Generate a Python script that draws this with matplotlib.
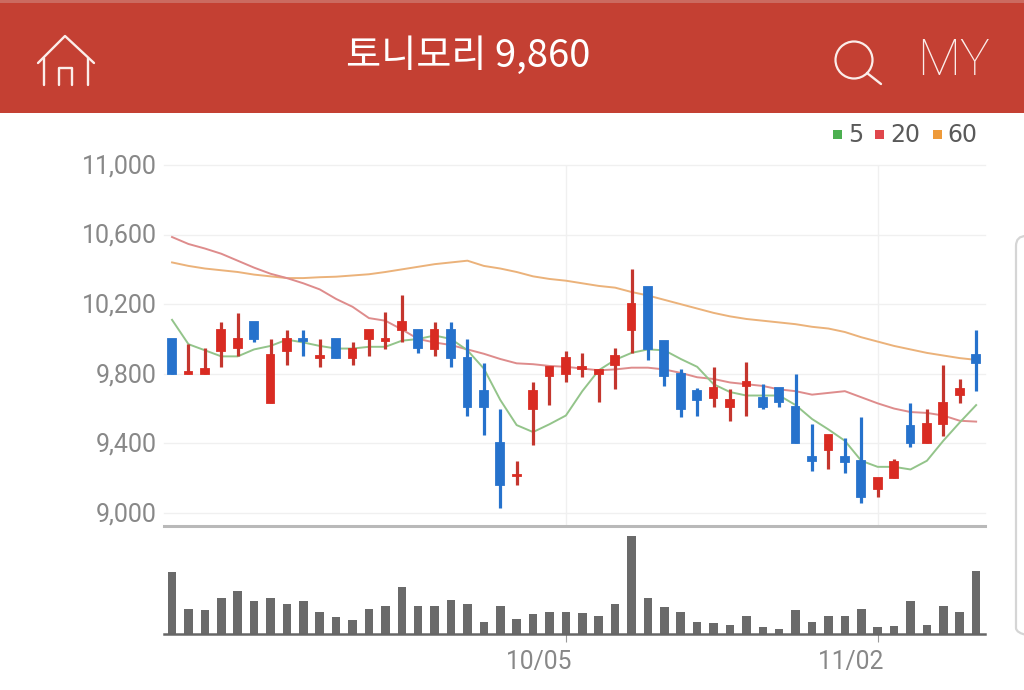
import matplotlib
matplotlib.use("Agg")
import matplotlib.pyplot as plt
from matplotlib.patches import Rectangle, Circle, FancyBboxPatch
from matplotlib.transforms import ScaledTranslation

# --- data ---
title_text = "토니모리 9,860"
y_ticks = [9000, 9400, 9800, 10200, 10600, 11000]
x_tick_idx = [24, 43]
x_tick_labels = ["10/05", "11/02"]
ma_names = ["5", "20", "60"]

opens = [10000,9800,9800,9930,9950,10100,9630,9930,10000,9890,10000,9890,10000,9990,10050,10050,9940,10050,9890,9700,
         9400,9210,9600,9790,9800,9830,9800,9850,10050,10300,9990,9800,9700,9660,9610,9730,9660,9720,9610,9320,
         9360,9320,9300,9140,9200,9500,9400,9510,9680,9910]
closes = [9800,9810,9830,10050,10000,10000,9910,10000,9990,9900,9890,9940,10050,10000,10100,9950,10050,9890,9610,9610,
          9160,9220,9700,9840,9890,9840,9820,9900,10200,9940,9790,9600,9650,9720,9650,9750,9610,9640,9400,9300,
          9450,9290,9090,9200,9290,9400,9510,9630,9710,9860]
highs = [10000,9970,9950,10100,10150,10100,10000,10050,10050,10000,10000,9980,10050,10155,10250,10050,10100,10100,10000,9860,
         9600,9300,9750,9840,9930,9920,9830,9950,10400,10300,9990,9830,9720,9840,9710,9870,9740,9720,9800,9510,
         9450,9430,9550,9200,9310,9630,9600,9850,9770,10050]
lows = [9800,9800,9800,9840,9900,9980,9630,9850,9900,9840,9890,9850,9900,9940,9980,9920,9900,9840,9560,9450,
        9030,9160,9390,9620,9750,9780,9640,9710,9920,9880,9730,9550,9560,9610,9530,9560,9600,9610,9400,9240,
        9250,9230,9060,9090,9200,9380,9400,9440,9630,9700]
ma5 = [10110,9970,9935,9900,9900,9940,9960,9996,9980,9960,9945,9945,9955,9955,9990,10000,10020,10000,9935,9830,
       9650,9505,9465,9510,9560,9700,9820,9880,9920,9940,9935,9885,9840,9740,9695,9675,9675,9675,9620,9540,
       9480,9415,9300,9265,9265,9250,9300,9415,9520,9620]
ma20 = [10586,10546,10520,10490,10450,10410,10375,10350,10320,10285,10230,10185,10120,10105,10055,10000,9980,9965,9940,9915,
        9885,9860,9855,9845,9840,9830,9820,9825,9835,9835,9825,9805,9780,9770,9750,9740,9730,9710,9700,9680,
        9690,9700,9665,9630,9600,9580,9575,9560,9530,9525]
ma60 = [10440,10420,10405,10395,10385,10370,10360,10350,10350,10355,10358,10365,10372,10385,10400,10415,10430,10440,10450,10420,
        10405,10385,10360,10345,10335,10320,10305,10295,10270,10250,10225,10200,10175,10150,10130,10115,10105,10095,10085,10070,
        10060,10040,10010,9985,9960,9940,9920,9905,9890,9880]
volumes = [185,75,72,107,129,98,107,89,98,67,50,41,76,85,141,85,85,102,89,37,85,46,59,67,67,
           63,54,89,293,107,80,67,37,33,28,54,20,15,72,37,54,54,76,20,24,98,28,85,67,189]

# --- styles ---
RED = "#D92B22"
RED_WICK = "#C4362E"
BLUE = "#2672CC"
HEADER = "#C44033"
TXT = "#888888"
ICON = "#FBEDEA"
MA_COL = ["#93C48A", "#DE8C8C", "#EBB27A"]
LEG_COL = ["#4CAF50", "#E0474C", "#EE9A3A"]
W, H = 1024, 690
plt.rcParams["font.family"] = ["Roboto", "Noto Sans CJK KR", "DejaVu Sans"]

fig = plt.figure(figsize=(W / 100, H / 100), dpi=100, facecolor="white")

def px_axes(l, t, r, b, **kw):
    return fig.add_axes([l / W, 1 - b / H, (r - l) / W, (b - t) / H], **kw)

# --- chrome layer in pixel coordinates ---
bg = px_axes(0, 0, W, H, zorder=0)
bg.set_xlim(0, W); bg.set_ylim(H, 0); bg.axis("off")
bg.add_patch(Rectangle((0, 0), W, 113, color=HEADER, lw=0))
bg.add_patch(Rectangle((0, 0), W, 3, color="#CB6A60", lw=0))
bg.text(468, 56, title_text, color="white", fontsize=27.5, ha="center", va="center",
        family=["Noto Sans CJK KR", "DejaVu Sans"], fontweight="medium")
ic = dict(color=ICON, lw=1.7, solid_capstyle="round", solid_joinstyle="round")
bg.plot([38, 65, 94], [63, 36, 63], **ic)
bg.plot([44, 44], [58, 85], **ic)
bg.plot([88, 88], [58, 85], **ic)
bg.plot([59, 59, 72, 72], [85, 68, 68, 85], **ic)
bg.add_patch(Circle((854, 60), 18.5, fill=False, ec=ICON, lw=1.6))
bg.plot([867, 881], [73, 84], **ic)
bg.text(953, 61.5, "MY", color=ICON, fontsize=36, ha="center", va="center",
        family=["Roboto"], fontweight="light")
# legend
for name, col, sx, tx in zip(ma_names, LEG_COL, [833, 875, 933], [848, 890, 947]):
    bg.add_patch(Rectangle((sx, 129.5), 9, 9, color=col, lw=0))
    bg.text(tx, 135, name, color="#5A5A5A", fontsize=17, ha="left", va="center",
            family=["DejaVu Sans"])
# right panel edge
bg.add_patch(FancyBboxPatch((1016, 236), 60, 402, boxstyle="round,pad=0,rounding_size=10",
                            fill=False, ec="#D5D5D5", lw=1.6))

# --- price panel ---
ax = px_axes(164, 165, 985, 526, zorder=2)
ax.patch.set_alpha(0)
ax.set_xlim(-0.49, 49.54)
ax.set_ylim(8925, 11000)
for s in ["top", "left", "right"]:
    ax.spines[s].set_visible(False)
ax.spines["bottom"].set_color("#B9B9B9")
ax.spines["bottom"].set_linewidth(2.2)
ax.set_yticks(y_ticks)
ax.set_yticklabels([f"{v:,}" for v in y_ticks])
ax.tick_params(axis="y", length=0, pad=5, labelsize=18, labelcolor=TXT)
ax.tick_params(axis="x", length=0, labelbottom=False)
ax.set_xticks(x_tick_idx)
ax.grid(True, color="#F0F0F0", lw=1.0, zorder=0)
ax.set_axisbelow(True)
for lab in ax.yaxis.get_gridlines():
    lab.set_clip_on(False)
y_shift = ScaledTranslation(0, 1.2 / 100, fig.dpi_scale_trans)
for label in ax.get_yticklabels():
    label.set_transform(label.get_transform() + y_shift)

xs = list(range(len(opens)))
ax.plot(xs, ma60, color=MA_COL[2], lw=1.4, zorder=3)
ax.plot(xs, ma20, color=MA_COL[1], lw=1.4, zorder=3)
ax.plot(xs, ma5, color=MA_COL[0], lw=1.4, zorder=3)
for i in xs:
    up = closes[i] >= opens[i]
    body_col = RED if up else BLUE
    wick_col = RED_WICK if up else BLUE
    ax.vlines(i, lows[i], highs[i], color=wick_col, lw=2.3, zorder=4)
    lo, hi = min(opens[i], closes[i]), max(opens[i], closes[i])
    ax.bar(i, hi - lo, bottom=lo, width=0.47, color=body_col, edgecolor=body_col, lw=1.3, zorder=5)

# --- volume panel ---
vx = px_axes(164, 534, 985, 634, zorder=2)
vx.patch.set_alpha(0)
vx.set_xlim(-0.49, 49.54)
vx.set_ylim(0, 300)
for s in ["top", "left", "right"]:
    vx.spines[s].set_visible(False)
vx.spines["bottom"].set_color("#666666")
vx.spines["bottom"].set_linewidth(1.8)
vx.set_yticks([])
vx.bar(xs, volumes, width=0.52, color="#6A6A6A", lw=0)
vx.set_xticks(x_tick_idx)
vx.set_xticklabels(x_tick_labels)
vx.tick_params(axis="x", length=5.5, width=0.8, color="#999999", pad=6, labelsize=17.7, labelcolor=TXT)
offset = ScaledTranslation(-27 / 100, 0, fig.dpi_scale_trans)
for label in vx.get_xticklabels():
    label.set_transform(label.get_transform() + offset)

fig.savefig("out.png", dpi=100)
